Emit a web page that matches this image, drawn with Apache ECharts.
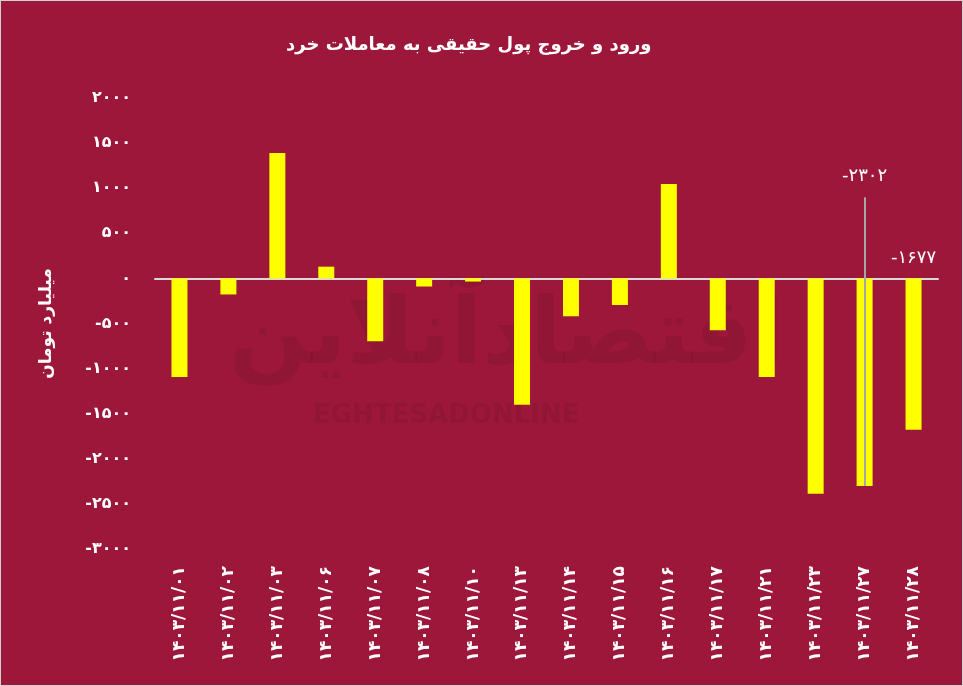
<!DOCTYPE html>
<html>
<head>
<meta charset="utf-8">
<script src="https://cdn.jsdelivr.net/npm/echarts@6/dist/echarts.min.js"></script>
<style>
html,body{margin:0;padding:0;background:#9d173a;}
#c{width:963px;height:686px;box-sizing:border-box;border:1px solid #d0d0d0;}
</style>
</head>
<body>
<div id="c"></div>
<script>
const titleText = 'ورود و خروج پول حقیقی به معاملات خرد';
const yAxisName = 'میلیارد تومان';
const categories = ['۱۴۰۳/۱۱/۰۱','۱۴۰۳/۱۱/۰۲','۱۴۰۳/۱۱/۰۳','۱۴۰۳/۱۱/۰۶','۱۴۰۳/۱۱/۰۷','۱۴۰۳/۱۱/۰۸','۱۴۰۳/۱۱/۱۰','۱۴۰۳/۱۱/۱۳','۱۴۰۳/۱۱/۱۴','۱۴۰۳/۱۱/۱۵','۱۴۰۳/۱۱/۱۶','۱۴۰۳/۱۱/۱۷','۱۴۰۳/۱۱/۲۱','۱۴۰۳/۱۱/۲۳','۱۴۰۳/۱۱/۲۷','۱۴۰۳/۱۱/۲۸'];
const values = [-1092, -178, 1390, 130, -697, -90, -35, -1402, -420, -295, 1046, -575, -1092, -2388, -2302, -1677];
const labelledIndex = [14, 15];
const yMin = -3000, yMax = 2000, yStep = 500;
const leaderTop = 900;

const faDigits = ['۰','۱','۲','۳','۴','۵','۶','۷','۸','۹'];
function toFa(v){ return String(v).replace(/[0-9]/g, d => faDigits[+d]); }

const chart = echarts.init(document.getElementById('c'), null, {renderer:'canvas'});
const FONT = 'DejaVu Sans';

const barData = values.map((v, i) => {
  if (i === labelledIndex[1]) {
    return {value: v, label: {show: true, position: 'top', distance: 0, offset: [0, -11],
      color: '#ffffff', fontSize: 18, fontFamily: FONT, formatter: () => toFa(v)}};
  }
  return v;
});

chart.setOption({
  backgroundColor: '#9d173a',
  animation: false,
  title: {
    text: titleText, left: 280, top: 30,
    textStyle: {color: '#ffffff', fontSize: 18, fontWeight: 'bold', fontFamily: FONT}
  },
  graphic: [
    {type: 'text', z: -10, left: 228, top: 292,
      style: {text: 'اقتصادآنلاین', font: 'bold 92px "' + FONT + '"', fill: 'rgba(0,0,0,0.07)'}},
    {type: 'text', z: -10, left: 312, top: 402,
      style: {text: 'EGHTESADONLINE', font: 'bold 26px "' + FONT + '"', fill: 'rgba(0,0,0,0.07)'}}
  ],
  grid: {left: 154, right: 24, top: 97, bottom: 136, containLabel: false},
  xAxis: {
    type: 'category', data: categories,
    axisLine: {show: true, onZero: true, lineStyle: {color: '#d9d9d9', width: 2}},
    axisTick: {show: false},
    axisLabel: {rotate: 90, color: '#ffffff', fontSize: 17, fontFamily: FONT, fontWeight: 'bold',
      margin: 17, interval: 0}
  },
  yAxis: {
    type: 'value', min: yMin, max: yMax, interval: yStep,
    name: yAxisName, nameLocation: 'middle', nameGap: 100, nameRotate: 90,
    nameTextStyle: {color: '#ffffff', fontSize: 17, fontWeight: 'bold', fontFamily: FONT},
    axisLine: {show: false}, axisTick: {show: false}, splitLine: {show: false},
    axisLabel: {color: '#ffffff', fontSize: 16, fontWeight: 'bold', fontFamily: FONT, margin: 24,
      formatter: v => toFa(v)}
  },
  series: [{
    type: 'bar', data: barData, barWidth: 16,
    itemStyle: {color: '#ffff00'},
    markLine: {
      silent: true, symbol: ['none', 'none'], z: 10,
      lineStyle: {color: '#a6a6a6', width: 2, type: 'solid'},
      label: {show: true, position: 'end', color: '#ffffff', fontSize: 18, fontFamily: FONT,
        distance: 12, formatter: () => toFa(values[labelledIndex[0]])},
      data: [[{coord: [labelledIndex[0], values[labelledIndex[0]]]}, {coord: [labelledIndex[0], leaderTop]}]]
    }
  }]
});
</script>
</body>
</html>
